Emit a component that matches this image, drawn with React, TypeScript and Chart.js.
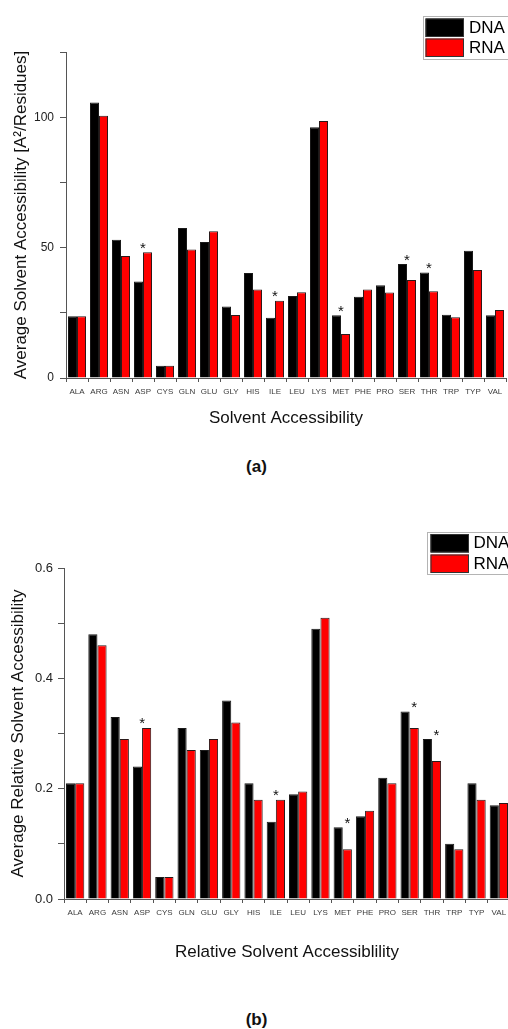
import React, { useEffect, useRef } from 'react';
import { Chart, registerables } from 'chart.js';

Chart.register(...registerables);

const FONT = "'Liberation Sans', Arial, Helvetica, sans-serif";

const categories = ['ALA', 'ARG', 'ASN', 'ASP', 'CYS', 'GLN', 'GLU', 'GLY', 'HIS', 'ILE', 'LEU', 'LYS', 'MET', 'PHE', 'PRO', 'SER', 'THR', 'TRP', 'TYP', 'VAL'];

// (a) Average solvent accessibility [A²/Residues]
const dnaSA = [23.7, 105.6, 53.0, 37.0, 4.7, 57.5, 52.1, 27.4, 40.3, 23.1, 31.4, 96.1, 24.1, 31.2, 35.6, 43.7, 40.5, 24.3, 48.8, 24.1];
const rnaSA = [23.7, 100.6, 46.8, 48.2, 4.7, 49.3, 56.3, 24.2, 33.9, 29.6, 32.9, 98.5, 16.9, 33.9, 32.8, 37.6, 33.3, 23.3, 41.4, 26.1];

// (b) Average relative solvent accessibility
const dnaRSA = [0.21, 0.48, 0.33, 0.24, 0.04, 0.31, 0.27, 0.36, 0.21, 0.14, 0.19, 0.49, 0.13, 0.15, 0.22, 0.34, 0.29, 0.10, 0.21, 0.17];
const rnaRSA = [0.21, 0.46, 0.29, 0.31, 0.04, 0.27, 0.29, 0.32, 0.18, 0.18, 0.195, 0.51, 0.09, 0.16, 0.21, 0.31, 0.25, 0.09, 0.18, 0.174];

type Sig = { cat: string; over: 'both' | 'DNA' | 'RNA' };
const sigSA: Sig[] = [
  { cat: 'ASP', over: 'both' },
  { cat: 'ILE', over: 'both' },
  { cat: 'MET', over: 'both' },
  { cat: 'SER', over: 'both' },
  { cat: 'THR', over: 'both' },
];
const sigRSA: Sig[] = [
  { cat: 'ASP', over: 'both' },
  { cat: 'ILE', over: 'both' },
  { cat: 'MET', over: 'RNA' },
  { cat: 'SER', over: 'RNA' },
  { cat: 'THR', over: 'RNA' },
];

const seriesNames = ['DNA', 'RNA'];
const seriesColors = ['#000000', '#ff0000'];

const starPlugin = {
  id: 'stars',
  afterDatasetsDraw(chart: any, _args: any, opts: any) {
    const items: Sig[] = opts.items || [];
    const ctx = chart.ctx;
    const m0 = chart.getDatasetMeta(0);
    const m1 = chart.getDatasetMeta(1);
    ctx.save();
    ctx.font = `15px ${FONT}`;
    ctx.fillStyle = '#111';
    ctx.textAlign = 'center';
    ctx.textBaseline = 'alphabetic';
    items.forEach((s) => {
      const i = chart.data.labels.indexOf(s.cat);
      const b0 = m0.data[i];
      const b1 = m1.data[i];
      const x = s.over === 'DNA' ? b0.x : s.over === 'RNA' ? b1.x : (b0.x + b1.x) / 2;
      const yc = Math.min(b0.y, b1.y) - 8;
      ctx.fillText('*', x, yc + 8.5);
    });
    ctx.restore();
  },
};

const boxLegendPlugin = {
  id: 'boxLegend',
  afterDraw(chart: any, _args: any, o: any) {
    const ctx = chart.ctx;
    ctx.save();
    ctx.strokeStyle = '#b4b4b4';
    ctx.lineWidth = 1;
    ctx.strokeRect(o.x + 0.5, o.y + 0.5, o.w, o.h);
    chart.data.datasets.forEach((ds: any, i: number) => {
      const sx = o.x + o.padX;
      const sy = o.y + o.padY + i * (o.sh + o.gap);
      ctx.fillStyle = ds.backgroundColor;
      ctx.fillRect(sx, sy, o.sw, o.sh);
      ctx.strokeStyle = '#333';
      ctx.strokeRect(sx + 0.5, sy + 0.5, o.sw - 1, o.sh - 1);
      ctx.fillStyle = '#000';
      ctx.font = `17px ${FONT}`;
      ctx.textAlign = 'left';
      ctx.textBaseline = 'middle';
      ctx.fillText(ds.label, sx + o.sw + o.tg, sy + o.sh / 2 + 0.5);
    });
    ctx.restore();
  },
};

type PanelProps = {
  top: number;
  width: number;
  height: number;
  padding: { left: number; top: number; right: number; bottom: number };
  yWidth: number;
  xHeight: number;
  yMax: number;
  yStep: number;
  labelEvery: number;
  decimals: number;
  dna: number[];
  rna: number[];
  sig: Sig[];
  yTitle: string;
  yTitlePad: number;
  xTitle: string;
  xTitlePad: number;
  yTickPad: number;
  yTickSize: number;
  legend: any;
};

function Panel(p: PanelProps) {
  const ref = useRef<HTMLCanvasElement>(null);
  useEffect(() => {
    if (!ref.current) return;
    const chart = new Chart(ref.current, {
      type: 'bar',
      data: {
        labels: categories,
        datasets: [
          { label: seriesNames[0], data: p.dna, backgroundColor: seriesColors[0], borderColor: '#1a1a1a', borderWidth: 1, categoryPercentage: 0.82, barPercentage: 1.0 },
          { label: seriesNames[1], data: p.rna, backgroundColor: seriesColors[1], borderColor: '#2a1a1a', borderWidth: 1, categoryPercentage: 0.82, barPercentage: 1.0 },
        ],
      },
      options: {
        responsive: false,
        animation: false,
        devicePixelRatio: 1,
        layout: { padding: p.padding },
        plugins: {
          legend: { display: false },
          tooltip: { enabled: false },
          stars: { items: p.sig },
          boxLegend: p.legend,
        } as any,
        scales: {
          x: {
            type: 'category',
            offset: true,
            grid: { offset: true, drawOnChartArea: false, drawTicks: true, tickLength: 4, color: '#555' },
            border: { display: true, color: '#555', width: 1 },
            ticks: { autoSkip: false, maxRotation: 0, minRotation: 0, font: { family: FONT, size: 8 }, color: '#3a3a3a', padding: 5 },
            title: { display: true, text: p.xTitle, font: { family: FONT, size: 17 }, color: '#111', padding: { top: 0, bottom: p.xTitlePad } },
            afterFit: (s: any) => { s.height = p.xHeight; },
          } as any,
          y: {
            min: 0,
            max: p.yMax,
            ticks: {
              stepSize: p.yStep,
              font: { family: FONT, size: p.yTickSize },
              color: '#222',
              padding: p.yTickPad,
              callback: (v: any) => {
                const k = Math.round(Number(v) / p.yStep);
                return k % p.labelEvery === 0 ? Number(v).toFixed(p.decimals) : '';
              },
            },
            grid: { drawOnChartArea: false, drawTicks: true, tickLength: 6, color: '#555' },
            border: { display: true, color: '#555', width: 1 },
            title: { display: true, text: p.yTitle, font: { family: FONT, size: 17 }, color: '#111', padding: { top: p.yTitlePad, bottom: 0 } },
            afterFit: (s: any) => { s.width = p.yWidth; },
          } as any,
        },
      },
      plugins: [starPlugin, boxLegendPlugin],
    });
    return () => chart.destroy();
  }, []);
  return (
    <canvas
      ref={ref}
      width={p.width}
      height={p.height}
      style={{ position: 'absolute', left: 0, top: p.top, width: p.width, height: p.height }}
    />
  );
}

const captionStyle = (top: number): React.CSSProperties => ({
  position: 'absolute',
  left: 0,
  top,
  width: 513,
  textAlign: 'center',
  fontFamily: FONT,
  fontWeight: 'bold',
  fontSize: 17,
  lineHeight: '18px',
  color: '#111',
});

export default function App() {
  return (
    <div style={{ position: 'absolute', left: 0, top: 0, width: 508, height: 1029, overflow: 'hidden', background: '#fff' }}>
      <Panel
        top={0}
        width={530}
        height={440}
        padding={{ left: 0, top: 52, right: 24, bottom: 0 }}
        yWidth={66}
        xHeight={62}
        yMax={125}
        yStep={25}
        labelEvery={2}
        decimals={0}
        dna={dnaSA}
        rna={rnaSA}
        sig={sigSA}
        yTitle="Average Solvent Accessibility [A²/Residues]"
        yTitlePad={11}
        xTitle="Solvent Accessibility"
        xTitlePad={11}
        yTickPad={6}
        yTickSize={12}
        legend={{ x: 423, y: 16, w: 130, h: 43, padX: 2.5, padY: 2.5, sw: 38.5, sh: 18.5, gap: 1.5, tg: 5 }}
      />
      <div style={captionStyle(458)}>(a)</div>
      <Panel
        top={500}
        width={530}
        height={470}
        padding={{ left: 0, top: 68, right: 20, bottom: 0 }}
        yWidth={64}
        xHeight={71}
        yMax={0.6}
        yStep={0.1}
        labelEvery={2}
        decimals={1}
        dna={dnaRSA}
        rna={rnaRSA}
        sig={sigRSA}
        yTitle="Average Relative Solvent Accessibility"
        yTitlePad={8}
        xTitle="Relative Solvent Accessiblility"
        xTitlePad={7}
        yTickPad={5}
        yTickSize={13}
        legend={{ x: 427, y: 32, w: 130, h: 42, padX: 3.5, padY: 2, sw: 38.5, sh: 18.5, gap: 2, tg: 4.5 }}
      />
      <div style={captionStyle(1011)}>(b)</div>
    </div>
  );
}
